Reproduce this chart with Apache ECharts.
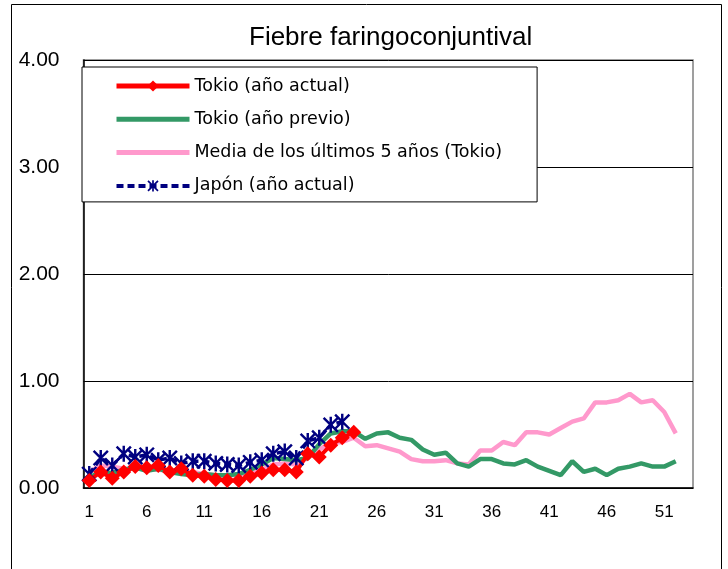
<!DOCTYPE html>
<html>
<head>
<meta charset="utf-8">
<script src="https://cdn.jsdelivr.net/npm/echarts@6/dist/echarts.min.js"></script>
<style>
  html, body { margin: 0; padding: 0; background: #fff; }
  #chart { width: 728px; height: 569px; }
</style>
</head>
<body>
<div id="chart"></div>
<script>
  // semanas 1..53
  let semanas = ['1','2','3','4','5','6','7','8','9','10','11','12','13','14','15','16','17','18','19','20',
    '21','22','23','24','25','26','27','28','29','30','31','32','33','34','35','36','37','38','39','40',
    '41','42','43','44','45','46','47','48','49','50','51','52','53'];

  let tokioActual = [0.07,0.15,0.09,0.15,0.20,0.19,0.21,0.15,0.18,0.12,0.11,0.08,0.07,0.07,0.11,0.14,0.17,0.17,0.15,0.32,
    0.29,0.40,0.47,0.52];

  let tokioPrevio = [0.10,0.15,0.14,0.17,0.19,0.16,0.18,0.15,0.13,0.12,0.13,0.12,0.12,0.13,0.17,0.22,0.28,0.27,0.26,0.28,
    0.41,0.51,0.53,0.53,0.46,0.51,0.52,0.47,0.45,0.36,0.31,0.33,0.23,0.20,0.27,0.27,0.23,0.22,0.26,0.20,
    0.16,0.12,0.25,0.15,0.18,0.12,0.18,0.20,0.23,0.20,0.20,0.25];

  let media5 = [0.15,0.21,0.20,0.18,0.18,0.18,0.17,0.16,0.15,0.15,0.13,0.12,0.12,0.12,0.14,0.17,0.22,0.23,0.22,0.28,
    0.36,0.42,0.43,0.47,0.39,0.40,0.37,0.34,0.27,0.25,0.25,0.26,0.23,0.22,0.35,0.35,0.43,0.40,0.52,0.52,
    0.50,0.56,0.62,0.65,0.80,0.80,0.82,0.88,0.80,0.82,0.71,0.51];

  let japonActual = [0.13,0.28,0.21,0.32,0.29,0.31,0.26,0.28,0.23,0.25,0.25,0.23,0.22,0.21,0.24,0.26,0.32,0.34,0.28,0.44,
    0.47,0.59,0.62];

  let nombres = ['Tokio (año actual)', 'Tokio (año previo)', 'Media de los últimos 5 años (Tokio)', 'Japón (año actual)'];
  let yMin = 0, yMax = 4, yPaso = 1;

  // asterisco: barra vertical + aspa
  let asterisco = 'path://M-1.2,-8L1.2,-8L1.2,8L-1.2,8Z' +
    'M-7.92,-6.22L-6.22,-7.92L7.92,6.22L6.22,7.92Z' +
    'M6.22,-7.92L7.92,-6.22L-6.22,7.92L-7.92,6.22Z';

  let chart = echarts.init(document.getElementById('chart'));
  let option = {
    animation: false,
    title: {
      text: 'Fiebre faringoconjuntival',
      left: 244,
      top: 20,
      textStyle: { fontFamily: 'Liberation Sans', fontSize: 26, fontWeight: 'normal', color: '#000' }
    },
    graphic: [
      {
        type: 'rect',
        shape: { x: 11.5, y: 4.5, width: 710, height: 620 },
        style: { fill: 'none', stroke: '#000', lineWidth: 1 },
        silent: true
      }
    ],
    legend: {
      data: [
        { name: nombres[0] },
        { name: nombres[1], itemStyle: { opacity: 0 } },
        { name: nombres[2], itemStyle: { opacity: 0 } },
        { name: nombres[3], lineStyle: { width: 4 } }
      ],
      orient: 'vertical',
      left: 82,
      top: 67,
      padding: [10, 35, 7, 32],
      itemWidth: 73,
      itemHeight: 14,
      itemGap: 15.3,
      lineStyle: { width: 5 },
      backgroundColor: '#fff',
      borderColor: '#000',
      borderWidth: 1,
      borderRadius: 0,
      textStyle: { fontFamily: 'DejaVu Sans', fontSize: 17.5, color: '#000' }
    },
    grid: {
      left: 83.5,
      right: 35,
      top: 60,
      bottom: 81,
      show: true,
      borderColor: '#808080',
      borderWidth: 1.5,
      backgroundColor: '#fff'
    },
    xAxis: {
      type: 'category',
      data: semanas,
      boundaryGap: true,
      axisLine: { lineStyle: { color: '#000', width: 1.5 } },
      axisTick: { inside: true, length: 5, interval: 4, lineStyle: { color: '#000' } },
      axisLabel: {
        interval: 4,
        margin: 16,
        color: '#000',
        fontFamily: 'Liberation Sans Narrow, Liberation Sans',
        fontSize: 17
      }
    },
    yAxis: {
      type: 'value',
      min: yMin,
      max: yMax,
      interval: yPaso,
      axisLine: { show: true, lineStyle: { color: '#000', width: 1.5 } },
      axisTick: { show: false },
      splitLine: { lineStyle: { color: '#000', width: 1 } },
      axisLabel: {
        margin: 24,
        color: '#000',
        fontFamily: 'Liberation Sans',
        fontSize: 21,
        formatter: function (v) { return v.toFixed(2); }
      }
    },
    series: [
      {
        name: nombres[2],
        type: 'line',
        data: media5,
        symbol: 'none',
        lineStyle: { color: '#FF99CC', width: 4.5 },
        itemStyle: { color: '#FF99CC' }
      },
      {
        name: nombres[1],
        type: 'line',
        data: tokioPrevio,
        symbol: 'none',
        lineStyle: { color: '#339966', width: 4.5 },
        itemStyle: { color: '#339966' }
      },
      {
        name: nombres[3],
        type: 'line',
        data: japonActual,
        symbol: asterisco,
        symbolSize: 16,
        showAllSymbol: true,
        lineStyle: { color: '#000080', width: 3.5, type: [7, 4] },
        itemStyle: { color: '#000080' }
      },
      {
        name: nombres[0],
        type: 'line',
        data: tokioActual,
        symbol: 'diamond',
        symbolSize: 15,
        showAllSymbol: true,
        lineStyle: { color: '#FF0000', width: 4 },
        itemStyle: { color: '#FF0000' }
      }
    ]
  };
  chart.setOption(option);
</script>
</body>
</html>
